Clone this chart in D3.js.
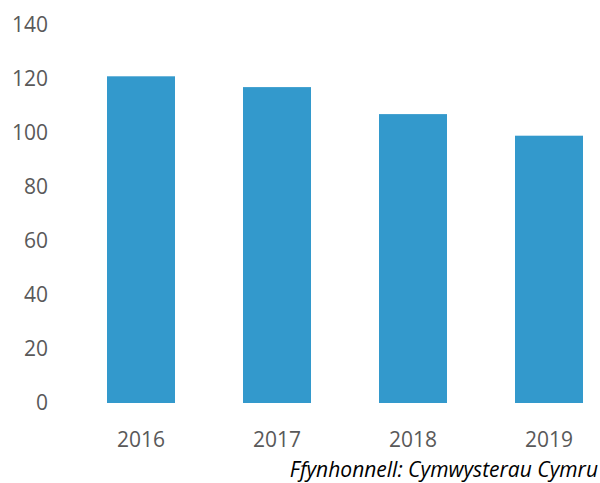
<!DOCTYPE html>
<html>
<head>
<meta charset="utf-8">
<script src="https://cdn.jsdelivr.net/npm/d3@7"></script>
<style>
  body { margin: 0; background: #fff; }
  svg { display: block; font-family: 'Open Sans', 'Noto Sans', sans-serif; }
</style>
</head>
<body>
<div id="chart"></div>
<script>
const years = ['2016', '2017', '2018', '2019']
const values = [121, 117, 107, 99]
const yTicks = [0, 20, 40, 60, 80, 100, 120, 140]
const sourceText = 'Ffynhonnell: Cymwysterau Cymru'

const width = 600
const height = 483
const fontSize = 21

const svg = d3.select('#chart')
  .append('svg')
  .attr('width', width)
  .attr('height', height)

const x = d3.scaleBand()
  .domain(years)
  .range([107, 583])
  .paddingInner(0.5)
  .paddingOuter(0)

const y = d3.scaleLinear()
  .domain([0, 140])
  .range([403, 25])

// y axis: labels only, no line or ticks
const yAxis = svg.append('g')
  .attr('transform', 'translate(48,0)')
  .call(d3.axisLeft(y).tickValues(yTicks).tickSize(0).tickPadding(0))
yAxis.select('.domain').remove()
yAxis.selectAll('text')
  .attr('font-size', fontSize)
  .attr('fill', '#595959')
  .attr('font-family', "'Open Sans', 'Noto Sans', sans-serif")

svg.append('g')
  .selectAll('rect')
  .data(years)
  .join('rect')
  .attr('x', d => x(d))
  .attr('width', x.bandwidth())
  .attr('y', (d, i) => y(values[i]))
  .attr('height', (d, i) => y(0) - y(values[i]))
  .attr('fill', '#3399cc')

const xAxis = svg.append('g')
  .attr('transform', `translate(0,${y(0)})`)
  .call(d3.axisBottom(x).tickSize(0).tickPadding(29))
xAxis.select('.domain').remove()
xAxis.selectAll('text')
  .attr('font-size', fontSize)
  .attr('fill', '#595959')
  .attr('font-family', "'Open Sans', 'Noto Sans', sans-serif")

svg.append('text')
  .attr('x', 598)
  .attr('y', 477)
  .attr('text-anchor', 'end')
  .attr('font-size', fontSize)
  .attr('font-style', 'italic')
  .attr('fill', '#000')
  .text(sourceText)
</script>
</body>
</html>
